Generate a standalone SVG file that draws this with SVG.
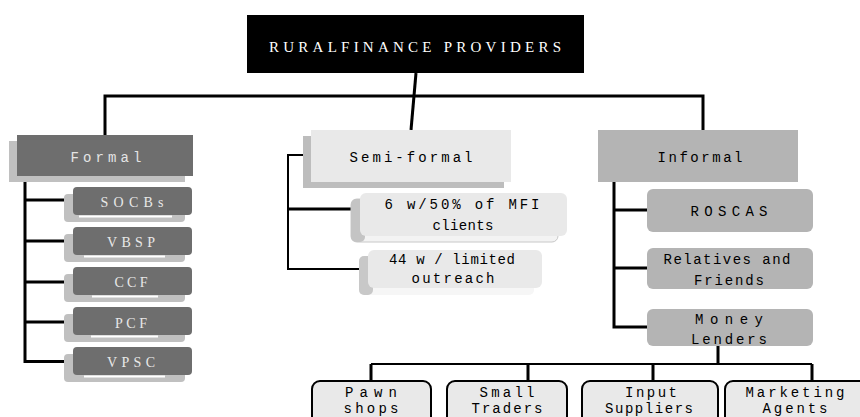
<svg xmlns="http://www.w3.org/2000/svg" width="860" height="417" viewBox="0 0 860 417">
<style>
.mono{font-family:"Liberation Mono","Courier New",monospace;font-size:14px;text-anchor:middle}
.serif{font-family:"Liberation Serif","Times New Roman",serif;text-anchor:middle}
.ln{stroke:#000;fill:none;stroke-width:3}
.ln2{stroke:#000;fill:none;stroke-width:2}
.fdark{fill:#6e6e6e}
.fsh{fill:#c0c0c0}
.flight{fill:#e9e9e9}
.fmid{fill:#b4b4b4}
.wl{fill:#fff}
.bot{fill:#e9e9e9;stroke:#000;stroke-width:2}
</style>
<rect width="860" height="417" fill="#fff"/>
<g id="connectors">
<path class="ln" d="M416 73 L411 130"/>
<path class="ln" d="M105 135 V96 H703 V130"/>
<path class="ln" d="M25 182 V361.5 H73 M25 200 H73 M25 241 H73 M25 282 H73 M25 322 H73"/>
<path class="ln2" d="M311 155 H288 V269 H367"/>
<path class="ln" d="M288 209 H360"/>
<path class="ln" d="M614 182 V327 H647 M614 210 H647 M614 268 H647"/>
<path class="ln" d="M718 346 V364"/>
<path class="ln2" d="M371 364 H812"/>
<path class="ln" d="M371 364 V381 M528 364 V381 M653 364 V381 M812 364 V381"/>
</g>
<g id="root">
<rect x="247" y="15" width="337" height="58" fill="#000"/>
<text class="serif" x="415" y="52" font-size="15" fill="#fff" textLength="292" lengthAdjust="spacing">RURALFINANCE PROVIDERS</text>
</g>
<g id="formal">
<rect class="fsh" x="9" y="141" width="176" height="41"/>
<rect class="fdark" x="17" y="135" width="176" height="41"/>
<text class="mono" x="106" y="162" fill="#e4e4e4" font-size="15" textLength="71" lengthAdjust="spacing">Formal</text>
</g>
<g id="socbs">
<rect class="fsh" x="64" y="194" width="121" height="28" rx="4"/>
<rect class="fdark" x="73" y="187" width="119" height="28" rx="4"/>
<rect class="wl" x="79" y="215.5" width="93" height="2"/>
<text class="serif" x="132" y="207" font-size="14" fill="#e8e8e8" textLength="63" lengthAdjust="spacing">SOCBs</text>
</g>
<g id="vbsp">
<rect class="fsh" x="64" y="234" width="121" height="28" rx="4"/>
<rect class="fdark" x="73" y="227" width="119" height="28" rx="4"/>
<rect class="wl" x="84" y="255.5" width="81" height="2"/>
<text class="serif" x="131" y="247" font-size="14" fill="#e8e8e8" textLength="48" lengthAdjust="spacing">VBSP</text>
</g>
<g id="ccf">
<rect class="fsh" x="64" y="274" width="121" height="28" rx="4"/>
<rect class="fdark" x="73" y="267" width="119" height="28" rx="4"/>
<rect class="wl" x="92" y="295.5" width="66" height="2"/>
<text class="serif" x="131" y="287" font-size="14" fill="#e8e8e8" textLength="33" lengthAdjust="spacing">CCF</text>
</g>
<g id="pcf">
<rect class="fsh" x="64" y="314" width="121" height="28" rx="4"/>
<rect class="fdark" x="73" y="307" width="119" height="28" rx="4"/>
<rect class="wl" x="91" y="335.5" width="67" height="2"/>
<text class="serif" x="131" y="328" font-size="14" fill="#e8e8e8" textLength="32" lengthAdjust="spacing">PCF</text>
</g>
<g id="vpsc">
<rect class="fsh" x="64" y="354" width="121" height="28" rx="4"/>
<rect class="fdark" x="73" y="347" width="119" height="28" rx="4"/>
<rect class="wl" x="84" y="375.5" width="81" height="2"/>
<text class="serif" x="131" y="367" font-size="14" fill="#e8e8e8" textLength="48" lengthAdjust="spacing">VPSC</text>
</g>
<g id="semiformal">
<rect x="303" y="136" width="201" height="52" fill="#bdbdbd"/>
<rect class="flight" x="311" y="130" width="200" height="52"/>
<text class="mono" x="411" y="162" fill="#000" font-size="15" textLength="123" lengthAdjust="spacing">Semi-formal</text>
</g>
<g id="semi6w">
<rect x="351" y="199" width="207" height="43" rx="6" fill="#f3f3f3" stroke="#c8c8c8" stroke-width="1"/>
<rect x="351" y="199" width="14" height="43" rx="5" fill="#c4c4c4"/>
<rect class="flight" x="360" y="193" width="207" height="43" rx="6"/>
<text class="mono" x="462" y="209" fill="#000" textLength="155" lengthAdjust="spacing">6 w/50% of MFI</text>
<text class="mono" x="463" y="230" fill="#000" textLength="61" lengthAdjust="spacing">clients</text>
</g>
<g id="semi44w">
<rect x="359" y="256" width="175" height="39" rx="5" fill="#f6f6f6"/>
<rect x="359" y="256" width="14" height="39" rx="5" fill="#c8c8c8"/>
<rect class="flight" x="368" y="250" width="174" height="38" rx="6"/>
<text class="mono" x="452" y="264" fill="#000" textLength="126" lengthAdjust="spacing">44 w / limited</text>
<text class="mono" x="453" y="283" fill="#000" textLength="83" lengthAdjust="spacing">outreach</text>
</g>
<g id="informal">
<rect class="fmid" x="598" y="130" width="200" height="52"/>
<text class="mono" x="700" y="162" fill="#000" font-size="15" textLength="85" lengthAdjust="spacing">Informal</text>
</g>
<g id="roscas">
<rect class="fmid" x="647" y="189" width="166" height="43" rx="6"/>
<text class="mono" x="729" y="216" fill="#000" textLength="77" lengthAdjust="spacing">ROSCAS</text>
</g>
<g id="relatives">
<rect class="fmid" x="647" y="248" width="166" height="41" rx="6"/>
<text class="mono" x="727" y="264" fill="#000" textLength="127" lengthAdjust="spacing">Relatives and</text>
<text class="mono" x="729" y="285" fill="#000" textLength="70" lengthAdjust="spacing">Friends</text>
</g>
<g id="money">
<rect class="fmid" x="647" y="309" width="166" height="37" rx="6"/>
<text class="mono" x="729" y="324" fill="#000" textLength="68" lengthAdjust="spacing">Money</text>
<text class="mono" x="729" y="344" fill="#000" textLength="76" lengthAdjust="spacing">Lenders</text>
</g>
<g id="pawn">
<rect class="bot" x="312" y="381" width="119" height="50" rx="8"/>
<text class="mono" x="371" y="397" fill="#000" textLength="52" lengthAdjust="spacing">Pawn</text>
<text class="mono" x="371" y="413" fill="#000" textLength="55" lengthAdjust="spacing">shops</text>
</g>
<g id="small">
<rect class="bot" x="447" y="381" width="120" height="50" rx="8"/>
<text class="mono" x="507" y="397" fill="#000" textLength="55" lengthAdjust="spacing">Small</text>
<text class="mono" x="507" y="413" fill="#000" textLength="71" lengthAdjust="spacing">Traders</text>
</g>
<g id="input">
<rect class="bot" x="582" y="381" width="136" height="50" rx="8"/>
<text class="mono" x="651" y="397" fill="#000" textLength="52" lengthAdjust="spacing">Input</text>
<text class="mono" x="649" y="413" fill="#000" textLength="88" lengthAdjust="spacing">Suppliers</text>
</g>
<g id="marketing">
<rect class="bot" x="725" y="381" width="150" height="50" rx="8"/>
<text class="mono" x="795" y="397" fill="#000" textLength="99" lengthAdjust="spacing">Marketing</text>
<text class="mono" x="795" y="413" fill="#000" textLength="65" lengthAdjust="spacing">Agents</text>
</g>
</svg>
